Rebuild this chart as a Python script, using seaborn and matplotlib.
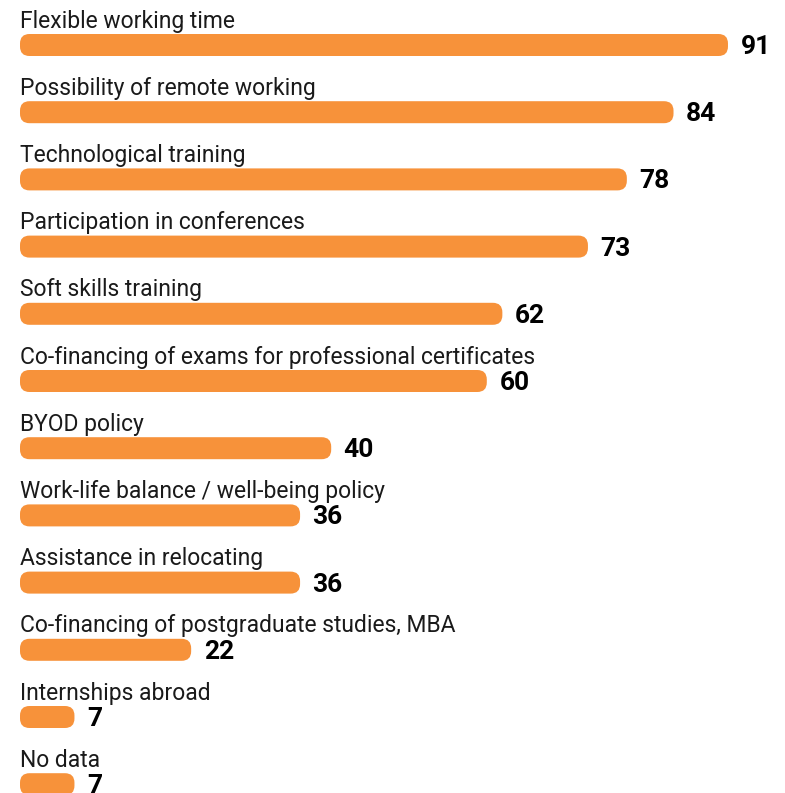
import matplotlib
matplotlib.use("Agg")
import matplotlib.pyplot as plt
from matplotlib.patches import FancyBboxPatch
import seaborn as sns
import pandas as pd

categories = [
    "Flexible working time",
    "Possibility of remote working",
    "Technological training",
    "Participation in conferences",
    "Soft skills training",
    "Co-financing of exams for professional certificates",
    "BYOD policy",
    "Work-life balance / well-being policy",
    "Assistance in relocating",
    "Co-financing of postgraduate studies, MBA",
    "Internships abroad",
    "No data",
]
values = [91, 84, 78, 73, 62, 60, 40, 36, 36, 22, 7, 7]

BAR_COLOR = "#F7923A"
W, H = 785, 793
PX_PER_UNIT = 7.78      # horizontal pixels per value unit
ROW_PX = 67.2           # vertical pixels between rows
FIRST_ROW_PX = 45       # centre of first bar from top
LEFT_PX = 20            # bar origin from left
BAR_PX = 22             # bar thickness
RADIUS_PX = 9.5

sns.set_theme(style="white")
plt.rcParams["font.family"] = ["Roboto", "DejaVu Sans"]

df = pd.DataFrame({"category": categories, "value": values})

fig = plt.figure(figsize=(W / 100, H / 100), dpi=100)
ax = fig.add_axes([0, 0, 1, 1])

bar_w = BAR_PX / ROW_PX
sns.barplot(data=df, x="value", y="category", orient="h", color=BAR_COLOR,
            saturation=1, width=bar_w, ax=ax)

ax.set_xlim(-LEFT_PX / PX_PER_UNIT, (W - LEFT_PX) / PX_PER_UNIT)
ax.set_ylim((H - FIRST_ROW_PX) / ROW_PX, -FIRST_ROW_PX / ROW_PX)

# swap the square bars for rounded ones
r_x = RADIUS_PX / PX_PER_UNIT
aspect = (1 / ROW_PX) / (1 / PX_PER_UNIT)
for p in list(ax.patches):
    x0, y0 = p.get_x(), p.get_y()
    w, h = p.get_width(), p.get_height()
    p.remove()
    ax.add_patch(FancyBboxPatch((x0, y0), w, h,
                                boxstyle=f"round,pad=0,rounding_size={r_x}",
                                mutation_aspect=aspect,
                                facecolor=BAR_COLOR, edgecolor="none"))

label_off = 17.5 / ROW_PX
gap = 12.5 / PX_PER_UNIT
val_drop = 2 / ROW_PX
for i, (cat, val) in enumerate(zip(categories, values)):
    ax.text(0, i - label_off, cat, ha="left", va="baseline",
            fontsize=16.5, color="#1a1a1a")
    ax.text(val + gap, i + val_drop, str(val), ha="left", va="center",
            fontsize=19, fontweight="bold", color="#000000")

ax.axis("off")
fig.savefig("out.png", dpi=100, facecolor="white")
